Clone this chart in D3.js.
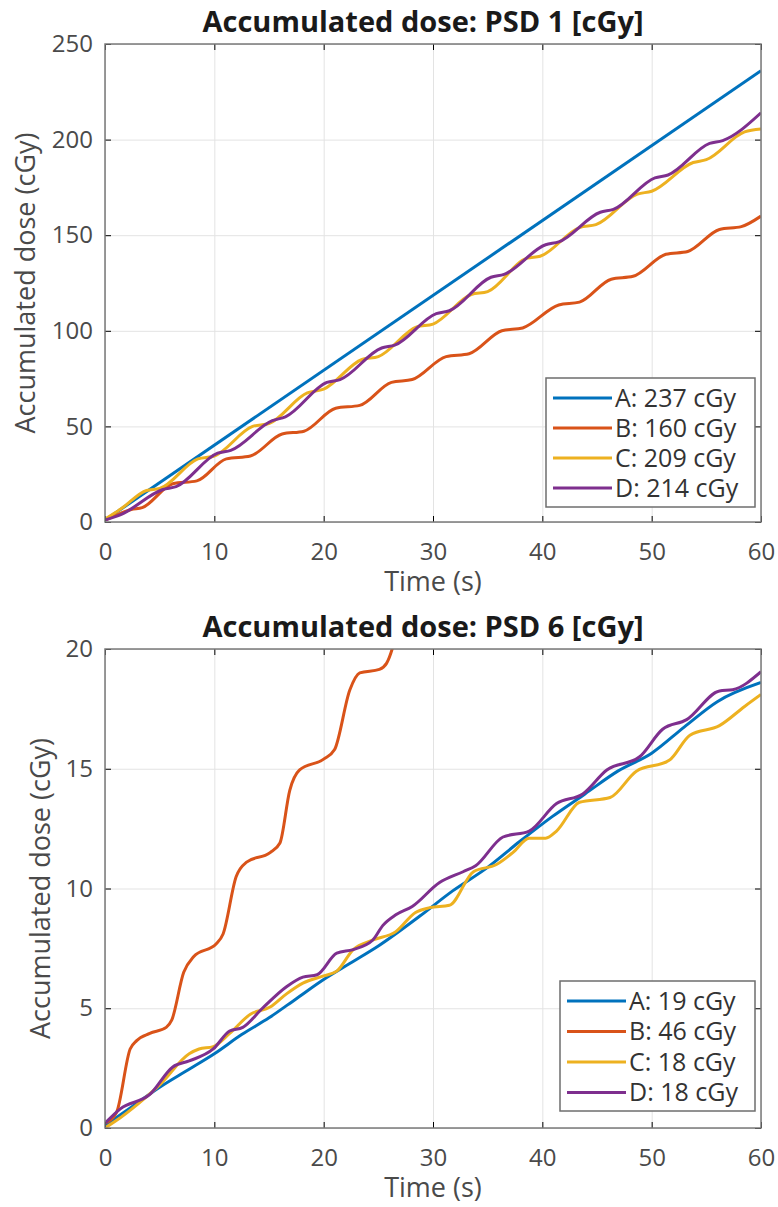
<!DOCTYPE html>
<html>
<head>
<meta charset="utf-8">
<script src="https://cdnjs.cloudflare.com/ajax/libs/d3/7.8.5/d3.min.js"></script>
<style>
body { margin: 0; background: #fff; }
svg { display: block; }
text { font-family: "Open Sans", "Noto Sans", sans-serif; }
</style>
</head>
<body>
<div id="chart"></div>
<script>
// shared ticks
var xTicks = [0, 10, 20, 30, 40, 50, 60];
var yTicksPsd1 = [0, 50, 100, 150, 200, 250];
var yTicksPsd6 = [0, 5, 10, 15, 20];
var seriesNames = ["A", "B", "C", "D"];
var colors = ["#0072BD", "#D95319", "#EDB120", "#7E2F8E"];

// PSD 1, [time (s), dose (cGy)]
var psd1A = [[0, 1], [60, 236]];
var psd1B = [[0, 1], [1.0, 3.5], [2.4, 6.5], [3.4, 7.5], [6.2, 20], [8.4, 21.5], [11.1, 33], [13.3, 34.5],
  [16.2, 46], [18.2, 47.5], [21.1, 59.5], [23.3, 61], [26.2, 73], [28.1, 74.5], [31.2, 86.5], [33.3, 88],
  [36.3, 100], [38.2, 101.5], [41.5, 113.5], [43.4, 115], [46.3, 127], [48.3, 128.5], [51.3, 140],
  [53.3, 141.5], [56.2, 153], [58.2, 154.5], [60, 160]];
var psd1C = [[0, 1.5], [1.5, 7], [3.8, 16.5], [5, 17.5], [8.5, 33], [10, 34.5], [13.5, 50], [15, 51.5],
  [18.5, 67.5], [20, 69.5], [23.5, 85], [25, 86.5], [28.5, 102], [30, 103.5], [33.5, 119], [35, 120.5],
  [38.6, 138], [39.8, 139], [43.4, 154], [44.9, 155.5], [48.7, 171.5], [50, 173], [53.8, 188], [55, 189.5],
  [58.5, 204], [60, 205.5]];
var psd1D = [[0, 1], [1.5, 4], [5.3, 17], [6.5, 18.5], [10.3, 36], [11.5, 37.5], [15.3, 53], [16.5, 55],
  [20.3, 73], [21.5, 74.5], [25.3, 91], [26.5, 92.5], [30.3, 109], [31.5, 110.5], [35.3, 128], [36.5, 129.5],
  [40.3, 145], [41.5, 146.5], [45.3, 162], [46.5, 163.5], [50.3, 180], [51.5, 181.5], [55.3, 198],
  [56.5, 199.5], [60, 214]];
var psd1Legend = ["A: 237 cGy", "B: 160 cGy", "C: 209 cGy", "D: 214 cGy"];

// PSD 6
var psd6A = [[0, 0.1], [2.5, 0.9], [5, 1.7], [7.5, 2.4], [10, 3.1], [12.5, 3.9], [15, 4.6], [17.5, 5.4],
  [20, 6.2], [22.5, 6.9], [25, 7.6], [28.8, 8.85], [31.8, 9.9], [34.9, 10.85], [37.9, 11.95], [40.9, 13.0],
  [43.9, 13.95], [46.9, 14.9], [50, 15.65], [53, 16.75], [56, 17.8], [60, 18.6]];
var psd6B = [[0, 0.2], [1.05, 0.65], [2.3, 3.3], [2.9, 3.65], [4.1, 3.95], [5.6, 4.2], [6.1, 4.5], [7.2, 6.5],
  [8.1, 7.15], [10.2, 7.7], [10.8, 8.1], [12, 10.5], [12.95, 11.1], [15.1, 11.5], [16, 11.9], [16.9, 14.1],
  [17.8, 14.95], [20, 15.4], [21, 15.8], [22.4, 18.3], [23.3, 19.0], [25.1, 19.15], [25.75, 19.4],
  [26.3, 20.05], [26.9, 21.2]];
var psd6C = [[0, 0], [1, 0.3], [3, 1.0], [5, 1.8], [7.7, 3.1], [8.6, 3.3], [9.9, 3.4], [11.4, 3.95],
  [13.3, 4.75], [15.1, 5.05], [16.6, 5.6], [18.1, 6.05], [20, 6.35], [21.2, 6.55], [22.7, 7.45], [24.5, 7.85],
  [26.6, 8.2], [28.4, 9.0], [29.7, 9.2], [31.5, 9.3], [33.7, 10.7], [35.8, 11.0], [37.3, 11.5], [38.8, 12.1],
  [40.3, 12.1], [41.3, 12.4], [43.4, 13.6], [46.2, 13.8], [48.6, 14.9], [51.6, 15.35], [53.5, 16.4],
  [56.2, 16.8], [58.5, 17.6], [60, 18.1]];
var psd6D = [[0, 0.2], [1.4, 0.8], [4.1, 1.4], [6.2, 2.55], [7.7, 2.8], [9.9, 3.3], [11.4, 4.05], [12.6, 4.2],
  [14.4, 5.0], [16.6, 5.9], [18.1, 6.3], [19.4, 6.4], [21.2, 7.3], [22.7, 7.45], [24.5, 7.85], [25.4, 8.45],
  [26.6, 8.9], [28.1, 9.25], [30.6, 10.25], [32.75, 10.7], [33.9, 10.95], [36.4, 12.15], [38.8, 12.4],
  [41.3, 13.55], [43.7, 13.95], [45.9, 14.95], [48.9, 15.5], [51, 16.65], [53.2, 17.05], [56.2, 18.25],
  [57.4, 18.3], [60, 19.05]];
var psd6Legend = ["A: 19 cGy", "B: 46 cGy", "C: 18 cGy", "D: 18 cGy"];

var svg = d3.select("#chart").append("svg")
    .attr("width", 778)
    .attr("height", 1207);

var left = 105, right = 761;

drawPanel({
    id: "p1", top: 44, bottom: 522, yMax: 250, yTicks: yTicksPsd1,
    title: "Accumulated dose: PSD 1 [cGy]", series: [psd1A, psd1B, psd1C, psd1D], legend: psd1Legend,
    labelX: 35, box: { x: 546, y: 378, w: 209, h: 129, row: 30 }
});
drawPanel({
    id: "p6", top: 649, bottom: 1128, yMax: 20, yTicks: yTicksPsd6,
    title: "Accumulated dose: PSD 6 [cGy]", series: [psd6A, psd6B, psd6C, psd6D], legend: psd6Legend,
    labelX: 50, box: { x: 560, y: 981, w: 195, h: 130, row: 30.5 }
});

function drawPanel(p) {
    var x = d3.scaleLinear().domain([0, 60]).range([left, right]);
    var y = d3.scaleLinear().domain([0, p.yMax]).range([p.bottom, p.top]);
    var h = p.bottom - p.top, w = right - left;
    var g = svg.append("g");

    // grid
    g.append("g").attr("transform", `translate(0,${p.bottom})`)
        .call(d3.axisBottom(x).tickValues(xTicks).tickSize(-h).tickFormat(""))
        .call(s => s.select(".domain").remove())
        .selectAll("line").attr("stroke", "#e3e3e3");
    g.append("g").attr("transform", `translate(${left},0)`)
        .call(d3.axisLeft(y).tickValues(p.yTicks).tickSize(-w).tickFormat(""))
        .call(s => s.select(".domain").remove())
        .selectAll("line").attr("stroke", "#e3e3e3");

    // lines
    svg.append("clipPath").attr("id", "clip-" + p.id)
        .append("rect").attr("x", left).attr("y", p.top).attr("width", w).attr("height", h);
    var line = d3.line().x(d => x(d[0])).y(d => y(d[1])).curve(d3.curveMonotoneX);
    g.append("g").attr("clip-path", `url(#clip-${p.id})`)
        .selectAll("path").data(p.series).join("path")
        .attr("d", line)
        .attr("fill", "none")
        .attr("stroke", (d, i) => colors[i])
        .attr("stroke-width", 3)
        .attr("stroke-linejoin", "round");

    // axes with inward ticks on all four sides
    g.append("g").attr("transform", `translate(0,${p.bottom})`)
        .call(d3.axisBottom(x).tickValues(xTicks).tickSize(-6).tickPadding(21));
    g.append("g").attr("transform", `translate(${left},0)`)
        .call(d3.axisLeft(y).tickValues(p.yTicks).tickSize(-6).tickPadding(12));
    g.append("g").attr("transform", `translate(0,${p.top})`)
        .call(d3.axisTop(x).tickValues(xTicks).tickSize(-6).tickFormat(""));
    g.append("g").attr("transform", `translate(${right},0)`)
        .call(d3.axisRight(y).tickValues(p.yTicks).tickSize(-6).tickFormat(""));
    g.selectAll(".domain").remove();
    g.selectAll(".tick line").filter(function () { return !d3.select(this).attr("stroke"); })
        .attr("stroke", "#7a7a7a");
    g.append("rect").attr("x", left).attr("y", p.top).attr("width", w).attr("height", h)
        .attr("fill", "none").attr("stroke", "#7a7a7a").attr("stroke-width", 1.5);
    g.selectAll(".tick text")
        .attr("font-size", 24)
        .attr("font-family", "'Open Sans', sans-serif")
        .attr("fill", "#4a4a4a");

    // texts
    g.append("text").attr("x", (left + right) / 2 - 10).attr("y", p.top - 12)
        .attr("text-anchor", "middle").attr("font-size", 29).attr("font-weight", "bold")
        .attr("fill", "#1a1a1a").text(p.title);
    g.append("text").attr("x", (left + right) / 2).attr("y", p.bottom + 69)
        .attr("text-anchor", "middle").attr("font-size", 27).attr("fill", "#4a4a4a")
        .text("Time (s)");
    g.append("text").attr("transform", `translate(${p.labelX},${(p.top + p.bottom) / 2}) rotate(-90)`)
        .attr("text-anchor", "middle").attr("font-size", 27).attr("fill", "#4a4a4a")
        .text("Accumulated dose (cGy)");

    // legend
    var b = p.box;
    var leg = g.append("g").attr("transform", `translate(${b.x},${b.y})`);
    leg.append("rect").attr("width", b.w).attr("height", b.h)
        .attr("fill", "#fff").attr("stroke", "#6e6e6e").attr("stroke-width", 1.5);
    var rows = leg.selectAll("g.row").data(p.legend).join("g")
        .attr("class", "row")
        .attr("transform", (d, i) => `translate(0,${20 + i * b.row})`);
    rows.append("line").attr("x1", 7).attr("x2", 66)
        .attr("stroke", (d, i) => colors[i]).attr("stroke-width", 3);
    rows.append("text").attr("x", 69).attr("dy", "0.35em")
        .attr("font-size", 25).attr("fill", "#333").text(d => d);
}
</script>
</body>
</html>
